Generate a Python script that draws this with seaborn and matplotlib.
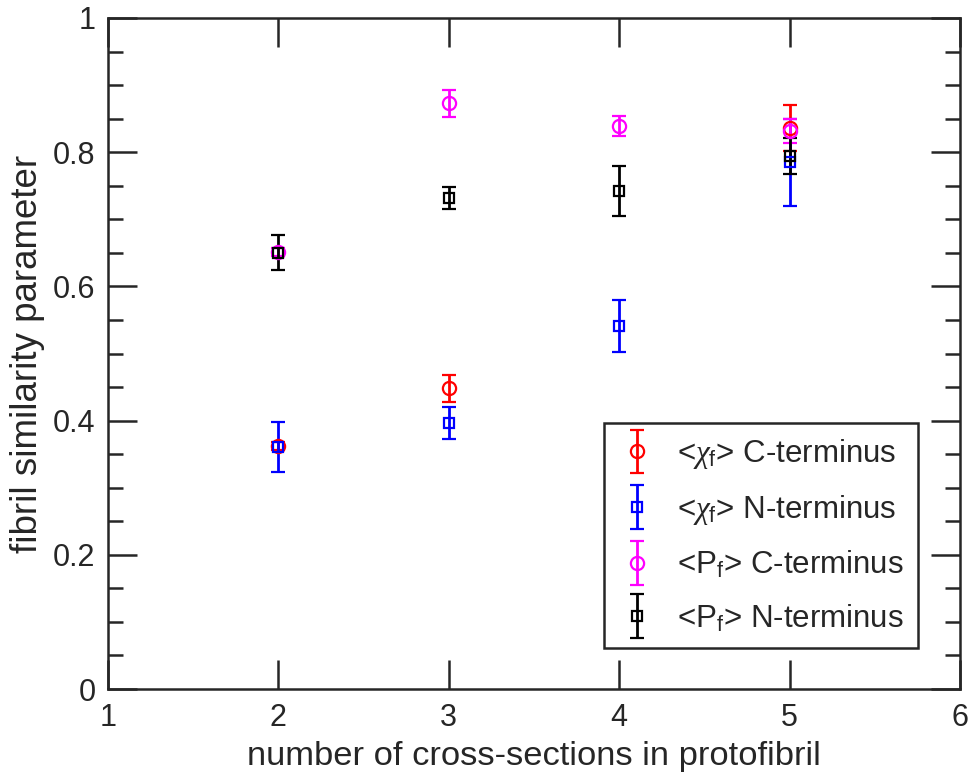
import matplotlib
matplotlib.use("Agg")
import matplotlib.pyplot as plt
from matplotlib.ticker import MultipleLocator
from matplotlib.container import ErrorbarContainer
from matplotlib.legend_handler import HandlerErrorbar
import seaborn as sns
import pandas as pd

# ---- data ----
chiC_x = [2, 3, 5]
chiC_y = [0.362, 0.448, 0.836]
chiC_e = [0.006, 0.020, 0.034]

chiN_x = [2, 3, 4, 5]
chiN_y = [0.361, 0.396, 0.541, 0.785]
chiN_e = [0.037, 0.024, 0.039, 0.065]

PfC_x = [2, 3, 4, 5]
PfC_y = [0.651, 0.873, 0.839, 0.831]
PfC_e = [0.006, 0.020, 0.015, 0.018]

PfN_x = [2, 3, 4, 5]
PfN_y = [0.650, 0.732, 0.742, 0.794]
PfN_e = [0.026, 0.016, 0.037, 0.027]

labels = [r"<$\chi_{\rm f}$> C-terminus", r"<$\chi_{\rm f}$> N-terminus",
          r"<P$_{\rm f}$> C-terminus", r"<P$_{\rm f}$> N-terminus"]

x_ticks = [1, 2, 3, 4, 5, 6]
x_ticklabels = ["1", "2", "3", "4", "5", "6"]
y_ticks = [0, 0.2, 0.4, 0.6, 0.8, 1.0]
y_ticklabels = ["0", "0.2", "0.4", "0.6", "0.8", "1"]

sns.set_theme(style="white")
plt.rcParams['font.family'] = ['Liberation Sans', 'DejaVu Sans']
plt.rcParams['mathtext.fontset'] = 'custom'
plt.rcParams['mathtext.rm'] = 'Liberation Sans'
plt.rcParams['mathtext.it'] = 'Liberation Serif:italic'

frames = []
for name, xs, ys, es in [(labels[0], chiC_x, chiC_y, chiC_e), (labels[1], chiN_x, chiN_y, chiN_e),
                         (labels[2], PfC_x, PfC_y, PfC_e), (labels[3], PfN_x, PfN_y, PfN_e)]:
    frames.append(pd.DataFrame({"series": name, "x": xs, "y": ys, "err": es}))
df = pd.concat(frames, ignore_index=True)

styles = {labels[0]: ("red", "o", 9.5), labels[1]: ("blue", "s", 6.5),
          labels[2]: ("magenta", "o", 9.5), labels[3]: ("black", "s", 6.5)}

fig = plt.figure(figsize=(9.71, 7.82), dpi=100)
ax = fig.add_axes([0.1112, 0.1189, 0.8775, 0.8581])

for name in labels:
    sub = df[df["series"] == name]
    c, m, ms = styles[name]
    ax.errorbar(sub["x"], sub["y"], yerr=sub["err"], fmt=m, color=c, ecolor=c,
                markersize=ms, markerfacecolor="none", markeredgecolor=c, markeredgewidth=1.6,
                elinewidth=2.0, capsize=5, capthick=2.0, linestyle="none", label=name)

ax.set_xlim(1, 6)
ax.set_ylim(0, 1)
ax.set_xticks(x_ticks)
ax.set_xticklabels(x_ticklabels)
ax.set_yticks(y_ticks)
ax.set_yticklabels(y_ticklabels)
ax.yaxis.set_minor_locator(MultipleLocator(0.05))

ax.tick_params(axis="both", which="major", direction="in", length=21, width=1.8,
               color="#262626", labelsize=22, labelcolor="#262626",
               top=True, right=True, bottom=True, left=True)
ax.tick_params(axis="x", which="major", pad=10)
ax.tick_params(axis="y", which="major", pad=9)
ax.tick_params(axis="y", which="minor", direction="in", length=11, width=1.8,
               color="#262626", left=True, right=True)
ax.tick_params(axis="x", which="minor", bottom=False, top=False)
for s in ax.spines.values():
    s.set_color("#262626")
    s.set_linewidth(1.8)

ax.set_xlabel("number of cross-sections in protofibril", fontsize=24.8, color="#262626", labelpad=6)
ax.set_ylabel("fibril similarity parameter", fontsize=26.5, color="#262626", labelpad=6)

leg = ax.legend(loc="lower right", bbox_to_anchor=(0.951, 0.061), borderaxespad=0,
                fontsize=22.5, frameon=True, fancybox=False, framealpha=1,
                edgecolor="#262626", handlelength=1.2, handletextpad=0.7,
                labelspacing=0.7, borderpad=0.45,
                handler_map={ErrorbarContainer: HandlerErrorbar(xerr_size=0.5, yerr_size=0.7)})
leg.get_frame().set_linewidth(1.8)

fig.savefig("out.png", dpi=100)
